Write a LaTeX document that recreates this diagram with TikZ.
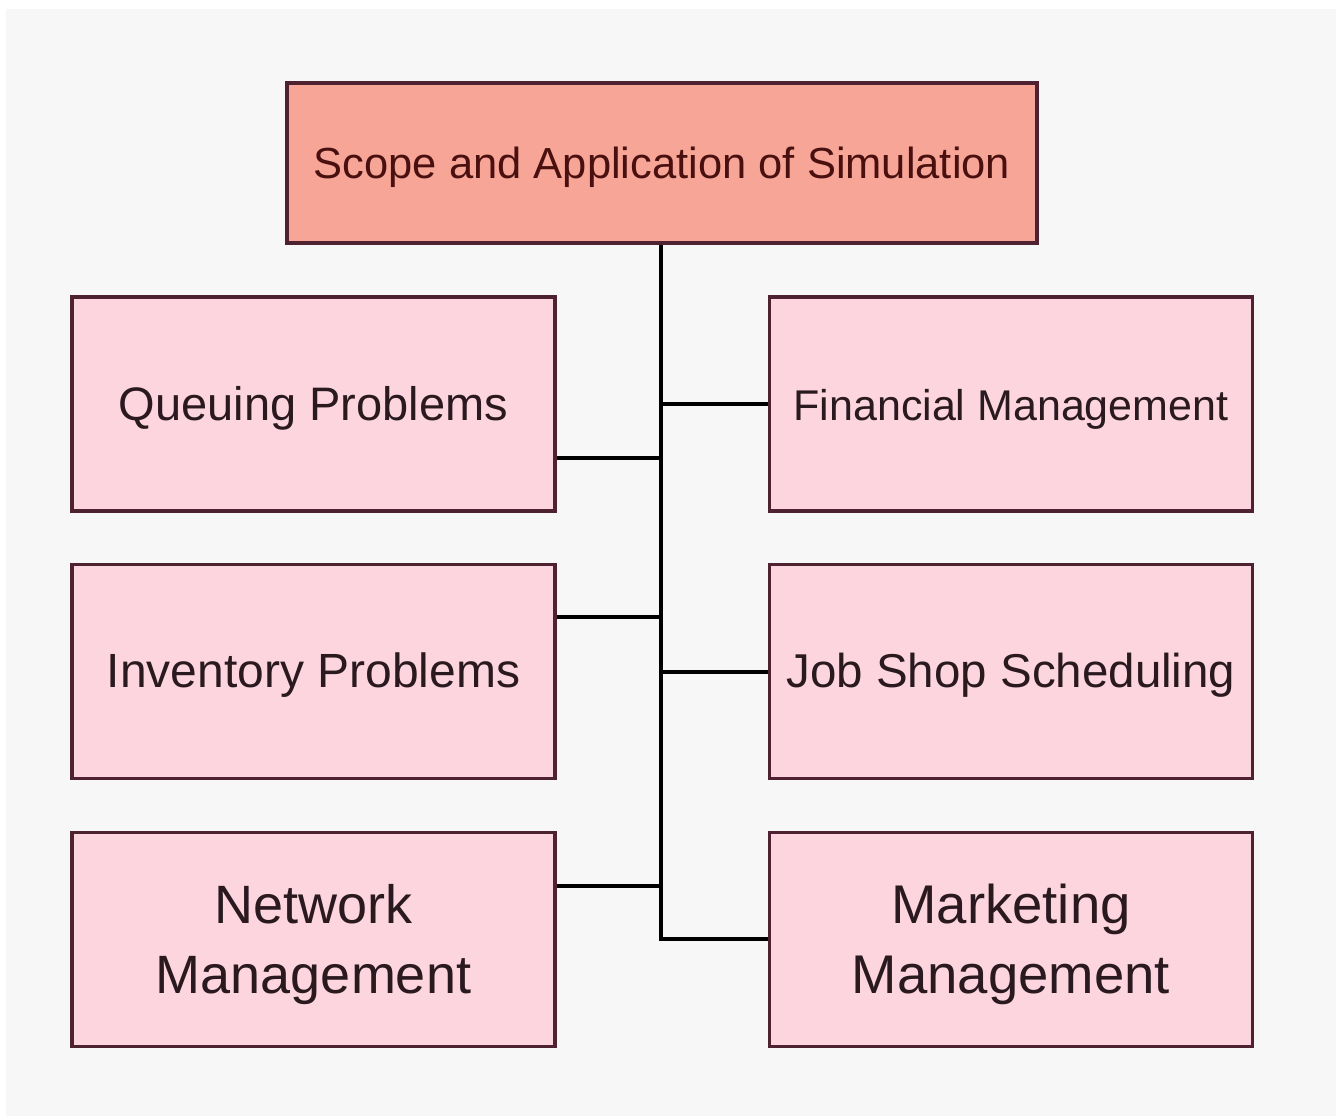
\documentclass[tikz,border=0pt]{standalone}
\usepackage{fontspec}
\setmainfont{Liberation Sans}
\definecolor{bg}{HTML}{F7F7F7}
\definecolor{topfill}{HTML}{F6A597}
\definecolor{boxfill}{HTML}{FDD5DF}
\definecolor{boxline}{HTML}{4E2230}
\definecolor{toptext}{HTML}{4A1010}
\definecolor{boxtext}{HTML}{2A1A20}
\newcommand{\lowtext}[1]{\raisebox{-5pt}[\height][\depth]{\begin{tabular}{@{}c@{}}#1\end{tabular}}}
\tikzset{
  topbox/.style={draw=boxline, line width=4pt, fill=topfill, minimum width=750pt, minimum height=160pt, inner sep=0pt, text=toptext, font=\fontsize{43.5}{50}\selectfont},
  catbox/.style={draw=boxline, line width=3.5pt, fill=boxfill, minimum width=483pt, minimum height=214pt, inner sep=0pt, text=boxtext, align=center},
  link/.style={draw=black, line width=4pt}
}
\begin{document}
\begin{tikzpicture}[x=1pt,y=-1pt]
\useasboundingbox (0,0) rectangle (1336,1116);
\fill[white] (0,0) rectangle (1336,1116);
\fill[bg] (6,9) rectangle (1336,1116);

\node[topbox] (top) at (662,163) {\lowtext{Scope and Application of Simulation}};

\node[catbox, font=\fontsize{47}{56}\selectfont] (queue) at (313.5,404) {\lowtext{Queuing Problems}};
\node[catbox, font=\fontsize{48}{56}\selectfont] (inv) at (313.5,671.5) {\lowtext{Inventory Problems}};
\node[catbox, font=\fontsize{54}{70}\selectfont] (net) at (313.5,939.5) {\lowtext{Network\\Management}};

\node[catbox, font=\fontsize{43}{56}\selectfont] (fin) at (1011,404) {\lowtext{Financial Management}};
\node[catbox, font=\fontsize{47.5}{56}\selectfont] (job) at (1011,671.5) {\lowtext{Job Shop Scheduling}};
\node[catbox, font=\fontsize{54.5}{70}\selectfont] (mkt) at (1011,939.5) {\lowtext{Marketing\\Management}};

\coordinate (trunkend) at (661,939);
\coordinate (jq) at (661,458);
\coordinate (ji) at (661,617);
\coordinate (jn) at (661,886);
\coordinate (jf) at (661,404);
\coordinate (jj) at (661,672);

\draw[link] (top.south -| trunkend) -- ([yshift=-2pt]trunkend);
\draw[link] (queue.east |- jq) -- (jq);
\draw[link] (inv.east |- ji) -- (ji);
\draw[link] (net.east |- jn) -- (jn);
\draw[link] (jf) -- (fin.west |- jf);
\draw[link] (jj) -- (job.west |- jj);
\draw[link] ([xshift=-2pt]trunkend) -- (mkt.west |- trunkend);
\end{tikzpicture}
\end{document}
